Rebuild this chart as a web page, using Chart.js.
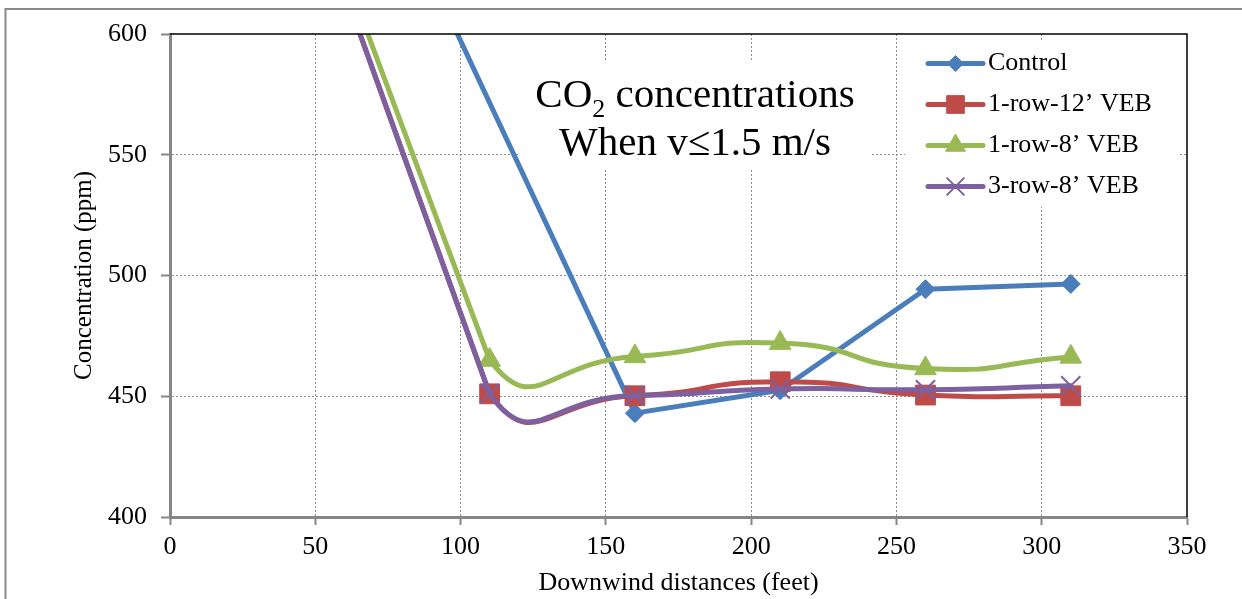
<!DOCTYPE html>
<html>
<head>
<meta charset="utf-8">
<title>CO2 concentrations</title>
<script src="https://cdn.jsdelivr.net/npm/chart.js@4.4.1/dist/chart.umd.min.js"></script>
<style>
  html, body { margin: 0; padding: 0; background: #fff; }
  #wrap { width: 1242px; height: 599px; position: relative; }
</style>
</head>
<body>
<div id="wrap"><canvas id="chart" width="1242" height="599"></canvas></div>
<script>
// Downwind sampling distances (feet); the 60 ft reading lies above the plotted range
const distances = [60, 110, 160, 210, 260, 310];
const controlDistances = [60, 160, 210, 260, 310];

// CO2 concentration (ppm)
const control  = [700, 443, 452.5, 494.3, 496.5];
const row1ft12 = [618, 451, 450.2, 456, 450.5, 450.2];
const row1ft8  = [626, 465, 466.5, 472, 461.5, 466.3];
const row3ft8  = [618, 451, 450.3, 453, 452.7, 454.3];

const seriesNames = ['Control', '1-row-12\u2019 VEB', '1-row-8\u2019 VEB', '3-row-8\u2019 VEB'];
const xTicks = [0, 50, 100, 150, 200, 250, 300, 350];
const yTicks = [400, 450, 500, 550, 600];

const COLORS = ['#4A7EBB', '#BE4B48', '#98B954', '#7D60A0'];
const SERIF = '"Liberation Serif", "Times New Roman", serif';
Chart.defaults.font.family = SERIF;

function points(xs, ys) { return xs.map((x, i) => ({ x: x, y: ys[i] })); }

// The smoothed series keep their 60 ft reading for the curve shape,
// while the run up from 60 ft is drawn as a straight stroke.
const hideLead = { borderColor: ctx => (ctx.p0DataIndex === 0 ? 'rgba(0,0,0,0)' : undefined) };

const lineBase = { borderWidth: 5, borderCapStyle: 'round', borderJoinStyle: 'round', fill: false };

function leadSet(name, xs, ys, color, order) {
  return Object.assign({}, lineBase, {
    label: name + ' lead', data: points(xs.slice(0, 2), ys.slice(0, 2)),
    borderColor: color, backgroundColor: color, pointRadius: 0, tension: 0, order: order
  });
}

const markers = [
  { style: 'rectRot', radius: 9.5, bw: 1, legendRadius: 8 },
  { style: 'rect', radius: 14, bw: 1, legendRadius: 12.5 },
  { style: 'triangle', radius: 12.5, bw: 1, legendRadius: 11.5 },
  { style: 'crossRot', radius: 13.5, bw: 2, legendRadius: 12.5 }
];

function mainSet(i, xs, ys, tension, order, segment) {
  const m = markers[i];
  const ds = Object.assign({}, lineBase, {
    label: seriesNames[i], data: points(xs, ys),
    borderColor: COLORS[i], backgroundColor: COLORS[i],
    pointStyle: m.style, pointRadius: m.radius, pointBorderWidth: m.bw,
    pointBackgroundColor: COLORS[i], pointBorderColor: COLORS[i],
    tension: tension, order: order
  });
  if (segment) ds.segment = segment;
  return ds;
}

const datasets = [
  mainSet(0, controlDistances, control, 0, 8),
  leadSet(seriesNames[1], distances, row1ft12, COLORS[1], 7),
  mainSet(1, distances, row1ft12, 0.6, 6, hideLead),
  leadSet(seriesNames[2], distances, row1ft8, COLORS[2], 5),
  mainSet(2, distances, row1ft8, 0.6, 4, hideLead),
  leadSet(seriesNames[3], distances, row3ft8, COLORS[3], 3),
  mainSet(3, distances, row3ft8, 0.6, 2, hideLead)
];

// Chart frame, title box and legend
const decorations = {
  id: 'decorations',
  beforeDraw(chart) {
    const ctx = chart.ctx;
    ctx.save();
    ctx.fillStyle = '#fff';
    ctx.fillRect(0, 0, chart.width, chart.height);
    ctx.strokeStyle = '#8A8A8A';
    ctx.lineWidth = 2;
    ctx.beginPath();
    ctx.moveTo(5.5, chart.height + 5);
    ctx.lineTo(5.5, 9);
    ctx.lineTo(chart.width + 5, 9);
    ctx.stroke();
    ctx.restore();
  },
  beforeDatasetsDraw(chart) {
    const ctx = chart.ctx;
    ctx.save();
    ctx.fillStyle = '#fff';
    ctx.fillRect(520, 62, 350, 106);
    ctx.fillStyle = '#000';
    ctx.textBaseline = 'alphabetic';
    ctx.textAlign = 'left';
    const big = '41px ' + SERIF, small = '26px ' + SERIF;
    const cx = 695;
    ctx.font = big;
    const wA = ctx.measureText('CO').width;
    const wC = ctx.measureText(' concentrations').width;
    ctx.font = small;
    const wB = ctx.measureText('2').width;
    let x = cx - (wA + wB + wC) / 2;
    ctx.font = big;
    ctx.fillText('CO', x, 106.5);
    x += wA;
    ctx.font = small;
    ctx.fillText('2', x, 117);
    x += wB;
    ctx.font = big;
    ctx.fillText(' concentrations', x, 106.5);
    ctx.textAlign = 'center';
    ctx.fillText('When v\u22641.5 m/s', cx, 155);
    ctx.restore();
  },
  afterDatasetsDraw(chart) {
    const ctx = chart.ctx;
    const a = chart.chartArea;
    ctx.save();
    // plot area top and right edges
    ctx.strokeStyle = '#000';
    ctx.lineWidth = 1.5;
    ctx.beginPath();
    ctx.moveTo(a.left, a.top);
    ctx.lineTo(a.right, a.top);
    ctx.lineTo(a.right, a.bottom);
    ctx.stroke();

    // legend
    ctx.fillStyle = '#fff';
    ctx.fillRect(905, 40, 273, 167);
    const draw = Chart.helpers && Chart.helpers.drawPoint;
    seriesNames.forEach((name, i) => {
      const y = 63.5 + i * 41;
      const m = markers[i];
      ctx.strokeStyle = COLORS[i];
      ctx.fillStyle = COLORS[i];
      ctx.lineWidth = 5;
      ctx.lineCap = 'round';
      ctx.setLineDash([]);
      ctx.beginPath();
      ctx.moveTo(928, y);
      ctx.lineTo(983, y);
      ctx.stroke();
      ctx.lineWidth = m.bw;
      ctx.lineCap = 'butt';
      if (draw) {
        draw(ctx, { pointStyle: m.style, radius: m.legendRadius, borderWidth: m.bw, rotation: 0 }, 955.5, y);
      }
      ctx.fillStyle = '#000';
      ctx.font = '26px ' + SERIF;
      ctx.textBaseline = 'middle';
      ctx.textAlign = 'left';
      ctx.fillText(name, 988, y);
    });
    ctx.restore();
  }
};

const GRID = '#8C8C8C';
const AXIS = '#868686';
function gridColor(edges) {
  return ctx => (ctx.tick && edges.indexOf(ctx.tick.value) >= 0) ? 'rgba(0,0,0,0)' : GRID;
}

new Chart(document.getElementById('chart'), {
  type: 'line',
  data: { datasets: datasets },
  options: {
    responsive: false,
    animation: false,
    devicePixelRatio: 1,
    layout: { padding: { left: 69, top: 34, right: 55, bottom: 0 } },
    plugins: { legend: { display: false }, tooltip: { enabled: false } },
    scales: {
      x: {
        type: 'linear', min: xTicks[0], max: xTicks[xTicks.length - 1],
        afterBuildTicks: s => { s.ticks = xTicks.map(v => ({ value: v })); },
        afterFit: s => { s.height = 82; },
        grid: { color: gridColor([xTicks[0], xTicks[xTicks.length - 1]]), lineWidth: 1,
                tickColor: AXIS, tickLength: 8, tickWidth: 2 },
        border: { color: AXIS, width: 3, dash: [2, 2] },
        ticks: { color: '#000', font: { size: 26 }, padding: 7, maxRotation: 0, autoSkip: false },
        title: { display: true, text: 'Downwind distances (feet)', color: '#000',
                 font: { size: 26 }, padding: 0 }
      },
      y: {
        type: 'linear', min: yTicks[0], max: yTicks[yTicks.length - 1],
        afterBuildTicks: s => { s.ticks = yTicks.map(v => ({ value: v })); },
        afterFit: s => { s.width = 101; },
        grid: { color: gridColor([yTicks[0], yTicks[yTicks.length - 1]]), lineWidth: 1,
                tickColor: AXIS, tickLength: 9, tickWidth: 2 },
        border: { color: AXIS, width: 3, dash: [2, 2] },
        ticks: { color: '#000', font: { size: 26 }, padding: 14, autoSkip: false },
        title: { display: true, text: 'Concentration (ppm)', color: '#000',
                 font: { size: 25 }, padding: 0 }
      }
    }
  },
  plugins: [decorations]
});
</script>
</body>
</html>
